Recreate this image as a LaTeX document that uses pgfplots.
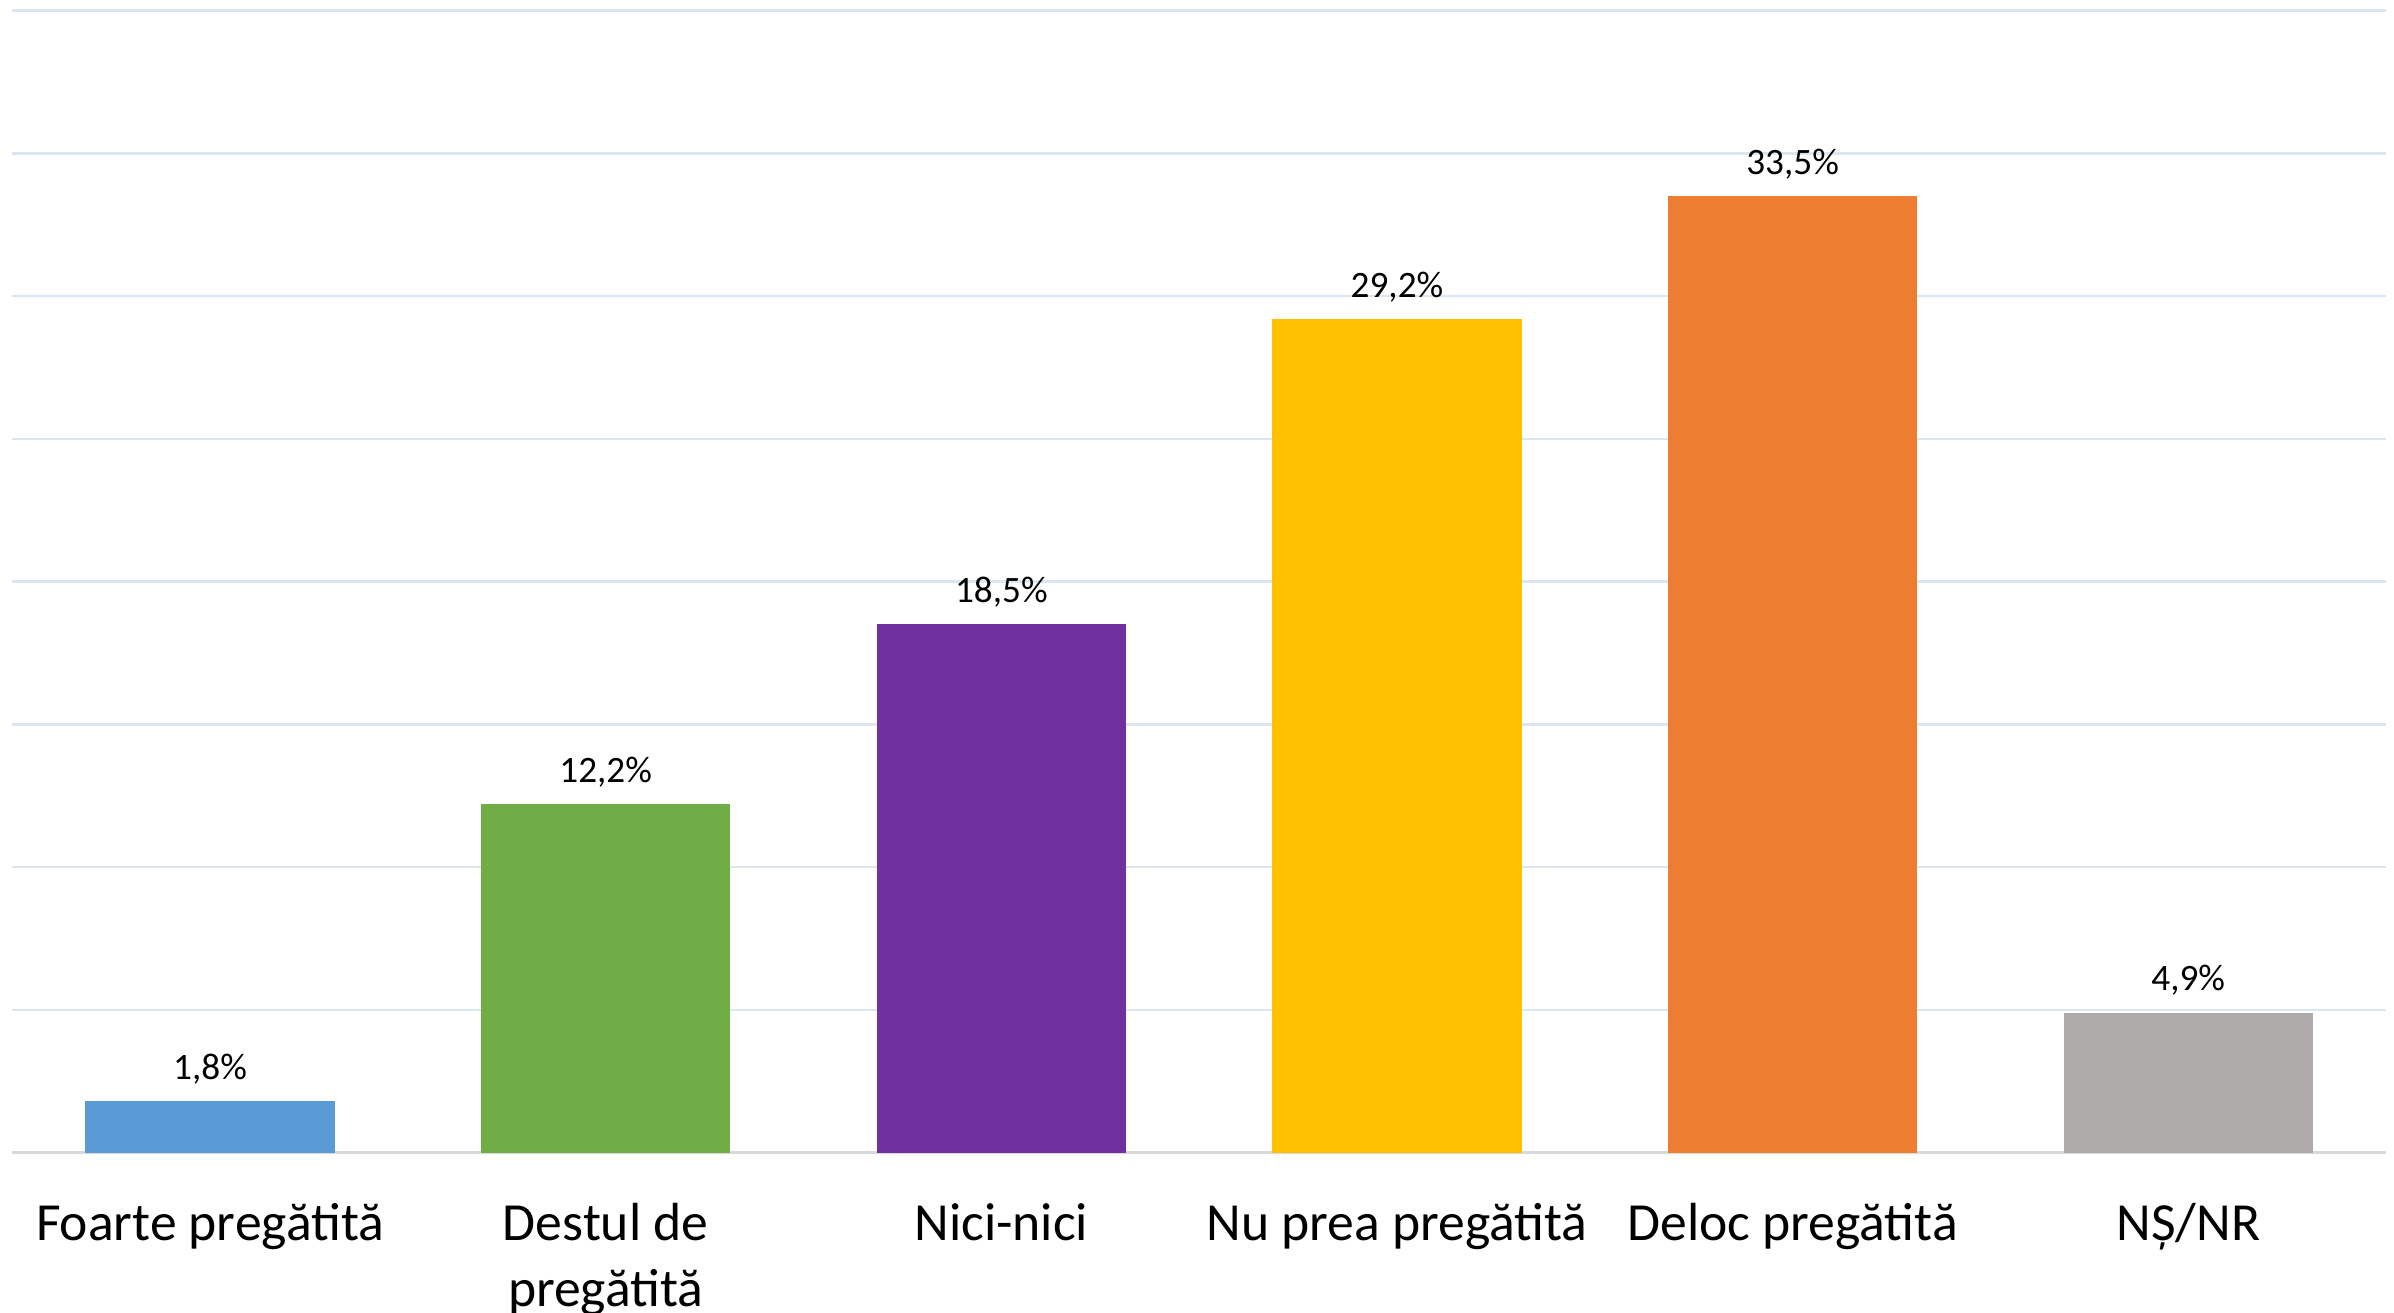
\documentclass[border=0pt]{standalone}
\usepackage{pgfplots}
\pgfplotsset{compat=1.18}
\usepackage{fontspec}
\setmainfont{Carlito}
\definecolor{cblue}{HTML}{5B9BD5}
\definecolor{cgreen}{HTML}{70AD47}
\definecolor{cpurple}{HTML}{7030A0}
\definecolor{cyellow}{HTML}{FFC000}
\definecolor{corange}{HTML}{ED7D31}
\definecolor{cgray}{HTML}{AFABAB}
\definecolor{gridc}{HTML}{DCE6F1}
\definecolor{axisc}{HTML}{D9D9D9}
\begin{document}
\begin{tikzpicture}
\begin{axis}[
  name=ax,
  scale only axis,
  width=477.9pt, height=229.9pt,
  xmin=-0.5, xmax=5.5,
  ymin=0, ymax=40,
  ybar, bar width=0.63, bar shift=0pt,
  xtick={0,1,2,3,4,5},
  xticklabels={{\strut Foarte pregătită},{\strut Destul de\\pregătită},{\strut Nici-nici},{\strut Nu prea pregătită},{\strut Deloc pregătită},{\strut NȘ/NR}},
  xticklabel style={font=\fontsize{10.8}{13.2}\selectfont, align=center, anchor=north, inner sep=0pt, yshift=-8.3pt, text=black},
  ytick={5,10,...,40},
  yticklabels={},
  extra y ticks={0},
  extra y tick labels={},
  extra y tick style={grid style={draw=axisc, line width=0.6pt}},
  ymajorgrids,
  grid style={draw=gridc, line width=0.5pt},
  major tick length=0pt,
  axis line style={draw=none},
  /pgf/number format/assume math mode=true,
  nodes near coords={\pgfmathprintnumber[fixed, fixed zerofill, precision=1, use comma]{\pgfplotspointmeta}\%},
  every node near coord/.append style={font=\fontsize{7.5}{9}\selectfont, anchor=base, inner sep=0pt, yshift=4.4pt, text=black},
]
\addplot[fill=cblue, draw=none] coordinates {(0,1.8)};
\addplot[fill=cgreen, draw=none] coordinates {(1,12.2)};
\addplot[fill=cpurple, draw=none] coordinates {(2,18.5)};
\addplot[fill=cyellow, draw=none] coordinates {(3,29.2)};
\addplot[fill=corange, draw=none] coordinates {(4,33.5)};
\addplot[fill=cgray, draw=none] coordinates {(5,4.9)};
\end{axis}
\pgfresetboundingbox
\path ([shift={(-2.46pt,-32.2pt)}]ax.south west) rectangle ([shift={(1.6pt,2.15pt)}]ax.north east);
\end{tikzpicture}
\end{document}
